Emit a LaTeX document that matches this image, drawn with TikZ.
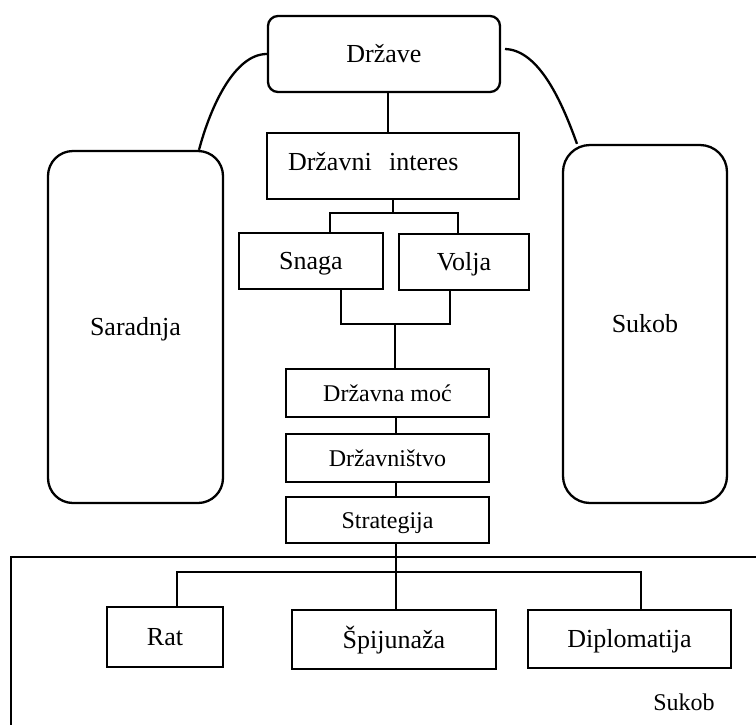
\documentclass[tikz,border=0pt]{standalone}
\usepackage{fontspec}
\setmainfont{Liberation Serif}
\begin{document}
\begin{tikzpicture}[x=1pt,y=-1pt,
  line width=2.3pt,
  box/.style={draw, rectangle, inner sep=0pt, text height=20pt, text depth=3pt,
    font=\fontsize{26}{30}\selectfont},
  smallbox/.style={box, font=\fontsize{24}{28}\selectfont},
  roundbox/.style={box, rounded corners=#1}]
\useasboundingbox (0,0) rectangle (756,724);

% top level
\node[roundbox=10pt, minimum width=232pt, minimum height=76pt] (drzave) at (384,54) {Države};
\node[box, minimum width=252pt, minimum height=66pt, text width=210pt, align=left,
  inner xsep=21pt, text height=14pt, text depth=6pt] (interes) at (393,166) {Državni\ \ interes};

% side panels
\node[roundbox=25pt, minimum width=175pt, minimum height=352pt] (saradnja) at (135.5,327) {Saradnja};
\node[roundbox=27pt, minimum width=164pt, minimum height=358pt] (sukob) at (645,324) {Sukob};

% power components
\node[box, minimum width=144pt, minimum height=56pt] (snaga) at (311,261) {Snaga};
\node[box, minimum width=130pt, minimum height=56pt] (volja) at (464,262) {Volja};

% central chain
\node[smallbox, minimum width=203pt, minimum height=48pt] (moc) at (387.5,393) {Državna moć};
\node[smallbox, minimum width=203pt, minimum height=48pt] (drzavnistvo) at (387.5,458) {Državništvo};
\node[smallbox, minimum width=203pt, minimum height=46pt] (strategija) at (387.5,520) {Strategija};

% conflict frame (open to the right and bottom)
\draw (11,725) -- (11,557) -- (757,557);
\node[font=\fontsize{24}{28}\selectfont, inner sep=0pt] (sukoblabel) at (684,702) {Sukob};

% instruments
\node[box, minimum width=116pt, minimum height=60pt] (rat) at (165,637) {Rat};
\node[box, minimum width=204pt, minimum height=59pt] (spijunaza) at (394,639.5) {Špijunaža};
\node[box, minimum width=203pt, minimum height=58pt] (diplomatija) at (629.5,639) {Diplomatija};

% junction points
\coordinate (rs) at (505,49);
\coordinate (j1) at (393,213);
\coordinate (j2) at (395,324);
\coordinate (j3) at (396,572);

% curved links to the side panels
\draw (drzave.west) .. controls (235,54) and (211,105) .. ([xshift=63.5pt]saradnja.north);
\draw (rs) .. controls (540,50) and (563,105) .. ([xshift=-68pt]sukob.north);

% tree links
\draw ([xshift=4pt]drzave.south) -- ([xshift=-5pt]interes.north);
\draw (interes.south) -- (j1);
\draw ([xshift=19pt]snaga.north) |- (j1) -| ([xshift=-6pt]volja.north);
\draw ([xshift=30pt]snaga.south) |- (j2) -| ([xshift=-14pt]volja.south);
\draw (j2) -- (j2 |- moc.north);
\draw (moc.south -| j3) -- (drzavnistvo.north -| j3);
\draw (drzavnistvo.south -| j3) -- (strategija.north -| j3);
\draw (strategija.south -| j3) -- (spijunaza.north -| j3);
\draw ([xshift=12pt]rat.north) |- (j3) -| ([xshift=11.5pt]diplomatija.north);
\end{tikzpicture}
\end{document}
